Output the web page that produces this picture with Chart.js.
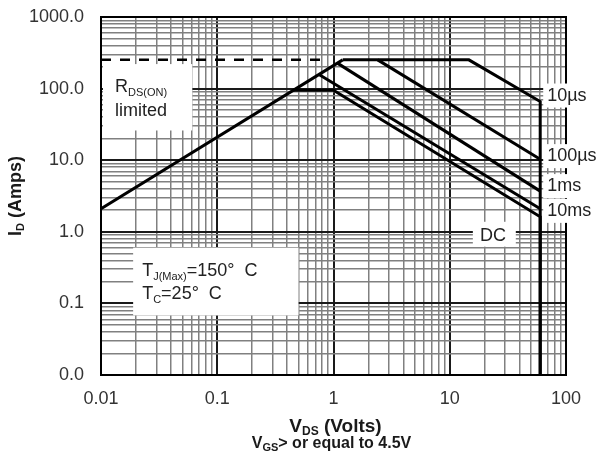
<!DOCTYPE html>
<html>
<head>
<meta charset="utf-8">
<script src="https://cdn.jsdelivr.net/npm/chart.js@4/dist/chart.umd.min.js"></script>
<style>
  html, body { margin: 0; padding: 0; background: #fff; }
</style>
</head>
<body>
<canvas id="soa" width="600" height="465"></canvas>
<script>
// curves (V in volts, I in amps)
const rdsV = [0.01, 1.2];
const rdsI = [2.1, 252];
const limitV = [0.01, 0.8];
const limitI = [253, 253];
const us10V = [1.2, 14.6, 60, 60];
const us10I = [252, 252, 66, 0.01];
const us100V = [2.4, 60];
const us100I = [252, 10.3];
const ms1V = [1.08, 60];
const ms1I = [227, 3.7];
const ms10V = [0.75, 60];
const ms10I = [157, 2.1];
const dcV = [0.45, 1.0, 60, 60];
const dcI = [95, 95, 1.62, 0.01];

// axes
const xTickValues = [0.01, 0.1, 1, 10, 100];
const xTickLabels = ["0.01", "0.1", "1", "10", "100"];
const yTickValues = [0.01, 0.1, 1, 10, 100, 1000];
const yTickLabels = ["0.0", "0.1", "1.0", "10.0", "100.0", "1000.0"];

// curve labels on the right (amps at label centre)
const curveNames = ["10\u00b5s", "100\u00b5s", "1ms", "10ms"];
const curveLabelI = [80, 11.4, 4.35, 1.96];

const FONT = "'Liberation Sans', Arial, sans-serif";

function pts(xs, ys) {
    return xs.map((v, i) => ({ x: v, y: ys[i] }));
}

// 1..9 per decade, so the grid looks like log paper
function logTicks(lo, hi) {
    const out = [];
    for (let d = lo; d < hi * 0.999; d *= 10) {
        for (let k = 1; k <= 9; k++) out.push(parseFloat((k * d).toPrecision(3)));
    }
    out.push(hi);
    return out;
}

function isDecade(v) {
    const l = Math.log10(v);
    return Math.abs(l - Math.round(l)) < 1e-6;
}

function drawRich(ctx, parts, x, y, align) {
    let w = 0;
    parts.forEach(p => { ctx.font = p.font; w += ctx.measureText(p.t).width; });
    let cx = align === "center" ? x - w / 2 : x;
    ctx.textAlign = "left";
    parts.forEach(p => {
        ctx.font = p.font;
        ctx.fillText(p.t, cx, y + (p.dy || 0));
        cx += ctx.measureText(p.t).width;
    });
}

function line(data, extra) {
    return Object.assign({
        data: data,
        borderColor: "#000",
        borderWidth: 3,
        pointRadius: 0,
        tension: 0,
        fill: false
    }, extra || {});
}

const decor = {
    id: "decor",
    beforeDatasetsDraw(chart) {
        const { ctx, chartArea: a, scales: { x, y } } = chart;
        ctx.save();
        ctx.strokeStyle = "#000";
        ctx.lineWidth = 2;
        ctx.strokeRect(a.left, a.top, a.right - a.left, a.bottom - a.top);

        // white boxes behind the notes
        ctx.fillStyle = "#fff";
        const box = (v0, v1, i0, i1) => {
            const x0 = x.getPixelForValue(v0), x1 = x.getPixelForValue(v1);
            const y0 = y.getPixelForValue(i1), y1 = y.getPixelForValue(i0);
            ctx.fillRect(x0, y0, x1 - x0, y1 - y0);
        };
        box(0.0104, 0.061, 26, 220);   // RDS(ON) limited
        box(0.0189, 0.5, 0.068, 0.6);  // TJ / TC
        box(15.8, 37, 0.62, 1.38);     // DC

        const lx = x.getPixelForValue(60) + 3;
        curveLabelI.forEach(i => {
            const cy = y.getPixelForValue(i);
            ctx.fillRect(lx, cy - 12, 600 - lx, 24);
        });
        ctx.restore();
    },
    afterDatasetsDraw(chart) {
        const { ctx, chartArea: a, scales: { x, y } } = chart;
        ctx.save();
        ctx.fillStyle = "#222";
        ctx.textBaseline = "alphabetic";
        const big = "18px " + FONT, sub = "11px " + FONT;

        drawRich(ctx, [{ t: "R", font: big }, { t: "DS(ON)", font: sub, dy: 4 }],
            x.getPixelForValue(0.0132), y.getPixelForValue(91), "left");
        drawRich(ctx, [{ t: "limited", font: big }],
            x.getPixelForValue(0.0132), y.getPixelForValue(40.9), "left");

        drawRich(ctx, [{ t: "T", font: big }, { t: "J(Max)", font: sub, dy: 4 }, { t: "=150\u00b0  C", font: big }],
            x.getPixelForValue(0.0226), y.getPixelForValue(0.245), "left");
        drawRich(ctx, [{ t: "T", font: big }, { t: "C", font: sub, dy: 4 }, { t: "=25\u00b0  C", font: big }],
            x.getPixelForValue(0.0226), y.getPixelForValue(0.117), "left");

        ctx.textBaseline = "middle";
        drawRich(ctx, [{ t: "DC", font: big }], x.getPixelForValue(23.5), y.getPixelForValue(0.88), "center");

        const lx = x.getPixelForValue(60) + 7;
        curveNames.forEach((n, k) => {
            drawRich(ctx, [{ t: n, font: big }], lx, y.getPixelForValue(curveLabelI[k]), "left");
        });

        // axis titles
        ctx.fillStyle = "#1a1a1a";
        const cx = (a.left + a.right) / 2;
        drawRich(ctx, [
            { t: "V", font: "bold 19px " + FONT },
            { t: "DS", font: "bold 12px " + FONT, dy: 5 },
            { t: " (Volts)", font: "bold 19px " + FONT }
        ], cx + 2, 427, "center");
        drawRich(ctx, [
            { t: "V", font: "bold 16px " + FONT },
            { t: "GS", font: "bold 11px " + FONT, dy: 4 },
            { t: "> or equal to 4.5V", font: "bold 16px " + FONT }
        ], cx - 2, 444, "center");

        ctx.translate(16, (a.top + a.bottom) / 2);
        ctx.rotate(-Math.PI / 2);
        drawRich(ctx, [
            { t: "I", font: "bold 18px " + FONT },
            { t: "D", font: "bold 11px " + FONT, dy: 5 },
            { t: " (Amps)", font: "bold 18px " + FONT }
        ], 0, 0, "center");
        ctx.restore();
    }
};

new Chart(document.getElementById("soa").getContext("2d"), {
    type: "line",
    data: {
        datasets: [
            line(pts(limitV, limitI), { borderWidth: 2.5, borderDash: [10, 9] }),
            line(pts(rdsV, rdsI)),
            line(pts(us10V, us10I)),
            line(pts(us100V, us100I)),
            line(pts(ms1V, ms1I)),
            line(pts(ms10V, ms10I)),
            line(pts(dcV, dcI))
        ]
    },
    options: {
        responsive: false,
        animation: false,
        layout: { padding: { top: 17, right: 34, left: 0, bottom: 0 } },
        plugins: {
            legend: { display: false },
            tooltip: { enabled: false }
        },
        scales: {
            x: {
                type: "logarithmic",
                min: 0.01,
                max: 100,
                afterBuildTicks: s => { s.ticks = logTicks(0.01, 100).map(v => ({ value: v })); },
                afterFit: s => {
                    s.height = 90;
                    s.paddingLeft = 0;
                    s.paddingRight = 0;
                },
                border: { display: false },
                grid: {
                    drawTicks: false,
                    color: c => isDecade(c.tick.value) ? "#1a1a1a" : "#808080",
                    lineWidth: c => isDecade(c.tick.value) ? 2 : 1.5
                },
                ticks: {
                    autoSkip: false,
                    maxRotation: 0,
                    padding: 13,
                    color: "#333",
                    font: { family: FONT, size: 18 },
                    callback: v => {
                        const k = xTickValues.indexOf(v);
                        return k >= 0 ? xTickLabels[k] : "";
                    }
                }
            },
            y: {
                type: "logarithmic",
                min: 0.01,
                max: 1000,
                afterBuildTicks: s => { s.ticks = logTicks(0.01, 1000).map(v => ({ value: v })); },
                afterFit: s => {
                    s.width = 101;
                    s.paddingTop = 0;
                    s.paddingBottom = 0;
                },
                border: { display: false },
                grid: {
                    drawTicks: false,
                    color: c => isDecade(c.tick.value) ? "#1a1a1a" : "#808080",
                    lineWidth: c => isDecade(c.tick.value) ? 2 : 1.5
                },
                ticks: {
                    autoSkip: false,
                    padding: 17,
                    color: "#333",
                    font: { family: FONT, size: 18 },
                    callback: v => {
                        const k = yTickValues.indexOf(v);
                        return k >= 0 ? yTickLabels[k] : "";
                    }
                }
            }
        }
    },
    plugins: [decor]
});
</script>
</body>
</html>
